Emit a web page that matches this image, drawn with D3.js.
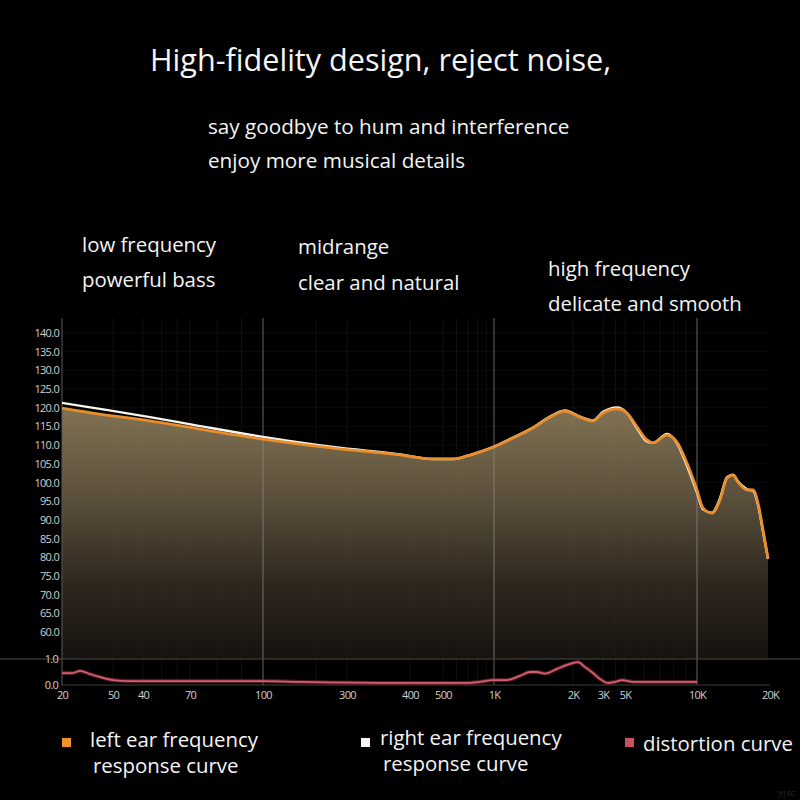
<!DOCTYPE html>
<html><head><meta charset="utf-8">
<script src="https://cdn.jsdelivr.net/npm/d3@7"></script>
<style>
html,body{margin:0;padding:0;background:#000;}
svg{display:block;}
text{font-family:"Open Sans","Noto Sans",sans-serif;}
</style></head>
<body>
<script>
// ---------- data ----------
const freqAnchors = [20,30,40,70,100,300,400,500,1000,2000,3000,5000,10000,20000];
const tickLabels  = ["20","50","40","70","100","300","400","500","1K","2K","3K","5K","10K","20K"];
const yTickValues = [60,65,70,75,80,85,90,95,100,105,110,115,120,125,130,135,140];
const distTickValues = [0,1];
const majorGridFreqs = [100,1000,10000];
const minorGridFreqs = [30,40,50,60,70,80,90,200,300,400,500,600,700,800,900,2000,3000,4000,5000,6000,7000,8000,9000];

const freqs = [20,27,43.5,73.5,100,250,382,467,573,693,827,1000,1181,1408,1592,1865,2198,2621,3000,4152,5097,5612,6180,6547,7492,8250,9081,10000,10586,11530,12440,13297,14077,14758,16078,17020,17847,18717,19620];
const leftEar  = [119.9,118.3,116.5,114.3,111.6,109.2,107.4,106.3,106.3,107.1,108.2,109.5,111.9,114.6,117.0,119.1,117.5,116.5,118.6,119.7,118.6,114.9,111.4,110.6,112.7,110.8,105.2,98.0,93.2,91.8,95.3,101.2,102.0,100.1,98.0,98.0,94.5,87.3,79.8];
const rightEar = [121.3,119.7,117.5,115.1,112.2,109.5,107.5,106.3,106.3,107.1,108.2,109.6,112.0,114.7,117.2,119.3,117.6,116.6,118.9,120.1,118.6,114.5,111.0,110.6,113.0,110.5,104.5,97.3,92.8,91.9,95.8,101.4,102.1,100.3,98.2,97.8,94.0,86.8,79.6];

const distFreqs = [20,21.7,23.1,25,27,30,35.3,73.5,100,162,382,693,885,970,1121,1256,1372,1458,1565,1738,1897,2140,2352,2621,2881,3369,3963,4664,5145,5506,10000];
const distortion = [0.46,0.46,0.54,0.42,0.31,0.19,0.15,0.15,0.15,0.12,0.08,0.08,0.15,0.19,0.19,0.35,0.50,0.50,0.44,0.62,0.77,0.88,0.69,0.46,0.23,0.08,0.12,0.19,0.15,0.12,0.12];

const legendItems = [
  {lines:["left ear frequency","response curve"], color:"#f0922b"},
  {lines:["right ear frequency","response curve"], color:"#f7f7f7"},
  {lines:["distortion curve"], color:"#c9505e"}
];

// ---------- layout ----------
const W = 800, H = 800;
const svg = d3.select("body").append("svg").attr("width",W).attr("height",H);
svg.append("rect").attr("width",W).attr("height",H).attr("fill","#000");

const x = d3.scaleLog().domain(freqAnchors)
  .range([62,113,143,190,263,347,410,443,494,573,603,625,697,770]);
const y = d3.scaleLinear().domain([60,140]).range([632,333]);
const yd = d3.scaleLinear().domain([0,1]).range([685,659]);
const plotTop = 318;

// gradient
const defs = svg.append("defs");
const grad = defs.append("linearGradient").attr("id","fillGrad")
  .attr("gradientUnits","userSpaceOnUse").attr("x1",0).attr("x2",0).attr("y1",400).attr("y2",yd(1));
grad.append("stop").attr("offset",0).attr("stop-color","#857555");
grad.append("stop").attr("offset",0.38).attr("stop-color","#5a4f3b");
grad.append("stop").attr("offset",0.7).attr("stop-color","#2f281e");
grad.append("stop").attr("offset",1).attr("stop-color","#16120e");

// faint grid
svg.append("g").selectAll("line").data(yTickValues).join("line")
  .attr("x1",x(20)).attr("x2",x(20000)).attr("y1",d=>y(d)).attr("y2",d=>y(d))
  .attr("stroke","#0b0b0b").attr("stroke-width",1);
svg.append("g").selectAll("line").data(minorGridFreqs).join("line")
  .attr("x1",d=>x(d)).attr("x2",d=>x(d)).attr("y1",plotTop).attr("y2",yd(0))
  .attr("stroke","#0d0d0d").attr("stroke-width",1);

// area under left ear
const pts = freqs.map((f,i)=>({f, l:leftEar[i], r:rightEar[i]}));
const area = d3.area().x(d=>x(d.f)).y0(yd(1)).y1(d=>y(d.l)).curve(d3.curveMonotoneX);
svg.append("path").datum(pts).attr("d",area).attr("fill","url(#fillGrad)");

// minor grid over fill (very faint)
svg.append("g").selectAll("line").data(minorGridFreqs).join("line")
  .attr("x1",d=>x(d)).attr("x2",d=>x(d)).attr("y1",plotTop).attr("y2",yd(0))
  .attr("stroke","rgba(255,255,255,0.025)").attr("stroke-width",1);

// major grid
svg.append("g").selectAll("line").data(majorGridFreqs).join("line")
  .attr("x1",d=>x(d)).attr("x2",d=>x(d)).attr("y1",plotTop).attr("y2",yd(0))
  .attr("stroke","#8a8a8a").attr("stroke-width",1).attr("opacity",0.75);

// separator (1.0) full width and baseline
svg.append("line").attr("x1",0).attr("x2",W).attr("y1",yd(1)).attr("y2",yd(1))
  .attr("stroke","#4a4a4a").attr("stroke-width",1);
svg.append("line").attr("x1",x(20)).attr("x2",x(20000)).attr("y1",yd(0)).attr("y2",yd(0))
  .attr("stroke","#3c3c3c").attr("stroke-width",1.2);
// y axis line
svg.append("line").attr("x1",x(20)).attr("x2",x(20)).attr("y1",plotTop).attr("y2",yd(0))
  .attr("stroke","#5a5a5a").attr("stroke-width",1);

// curves
const lineR = d3.line().x(d=>x(d.f)).y(d=>y(d.r)).curve(d3.curveMonotoneX);
const lineL = d3.line().x(d=>x(d.f)).y(d=>y(d.l)).curve(d3.curveMonotoneX);
svg.append("path").datum(pts).attr("d",lineR).attr("fill","none")
  .attr("stroke","#f7f5ee").attr("stroke-width",2.4);
svg.append("path").datum(pts).attr("d",lineL).attr("fill","none")
  .attr("stroke","#e98e2a").attr("stroke-width",2.8);

// distortion
const dpts = distFreqs.map((f,i)=>({f, v:distortion[i]}));
const lineD = d3.line().x(d=>x(d.f)).y(d=>yd(d.v)).curve(d3.curveMonotoneX);
svg.append("path").datum(dpts).attr("d",lineD).attr("fill","none")
  .attr("stroke","#8a2a38").attr("stroke-width",4).attr("opacity",0.6);
svg.append("path").datum(dpts).attr("d",lineD).attr("fill","none")
  .attr("stroke","#d2606e").attr("stroke-width",1.8);

// y axis labels
const styleTicks = sel => sel.selectAll("text").attr("fill","#d0d0d0").attr("font-size",11).attr("letter-spacing","-0.7")
  .style("font-family","'Open Sans',sans-serif");
const yAxis = d3.axisLeft(y).tickValues(yTickValues).tickFormat(d3.format(".1f")).tickSize(0).tickPadding(3);
const ya = svg.append("g").attr("transform",`translate(${x(20)},0)`).call(yAxis);
ya.select(".domain").remove(); styleTicks(ya);
const ydAxis = d3.axisLeft(yd).tickValues(distTickValues).tickFormat(d3.format(".1f")).tickSize(0).tickPadding(4);
const yda = svg.append("g").attr("transform",`translate(${x(20)},0)`).call(ydAxis);
yda.select(".domain").remove(); styleTicks(yda);

// x axis labels
const xAxis = d3.axisBottom(x).tickValues(freqAnchors).tickFormat((d,i)=>tickLabels[i]).tickSize(0).tickPadding(6);
const xa = svg.append("g").attr("transform",`translate(0,${yd(0)})`).call(xAxis);
xa.select(".domain").remove(); styleTicks(xa);

// texts
const T = (t,px,py,fs)=>svg.append("text").attr("x",px).attr("y",py).attr("fill","#f4f4f4")
  .attr("font-size",fs).text(t);
T("High-fidelity design, reject noise,",150,71,30.6);
T("say goodbye to hum and interference",208,134,20.7);
T("enjoy more musical details",208,168,20.7);
T("low frequency",82,252,20.4);
T("powerful bass",82,287,20.4);
T("midrange",298,254,20.4);
T("clear and natural",298,290,20.4);
T("high frequency",548,276,20.4);
T("delicate and smooth",548,311,20.4);

// legend
const legendPos = [{sx:62,tx:90,ty:747,t2x:93},{sx:361,tx:380,ty:745,t2x:383},{sx:625,tx:643,ty:751,t2x:643}];
legendItems.forEach((it,i)=>{
  const p = legendPos[i];
  svg.append("rect").attr("x",p.sx).attr("y",738).attr("width",9).attr("height",9).attr("fill",it.color);
  it.lines.forEach((ln,j)=>T(ln, j===0?p.tx:p.t2x, p.ty + j*26, 20.4));
});
svg.append("text").attr("x",778).attr("y",796).attr("fill","#2e2e2e").attr("font-size",7).text("[t] EC");
</script>
</body></html>
